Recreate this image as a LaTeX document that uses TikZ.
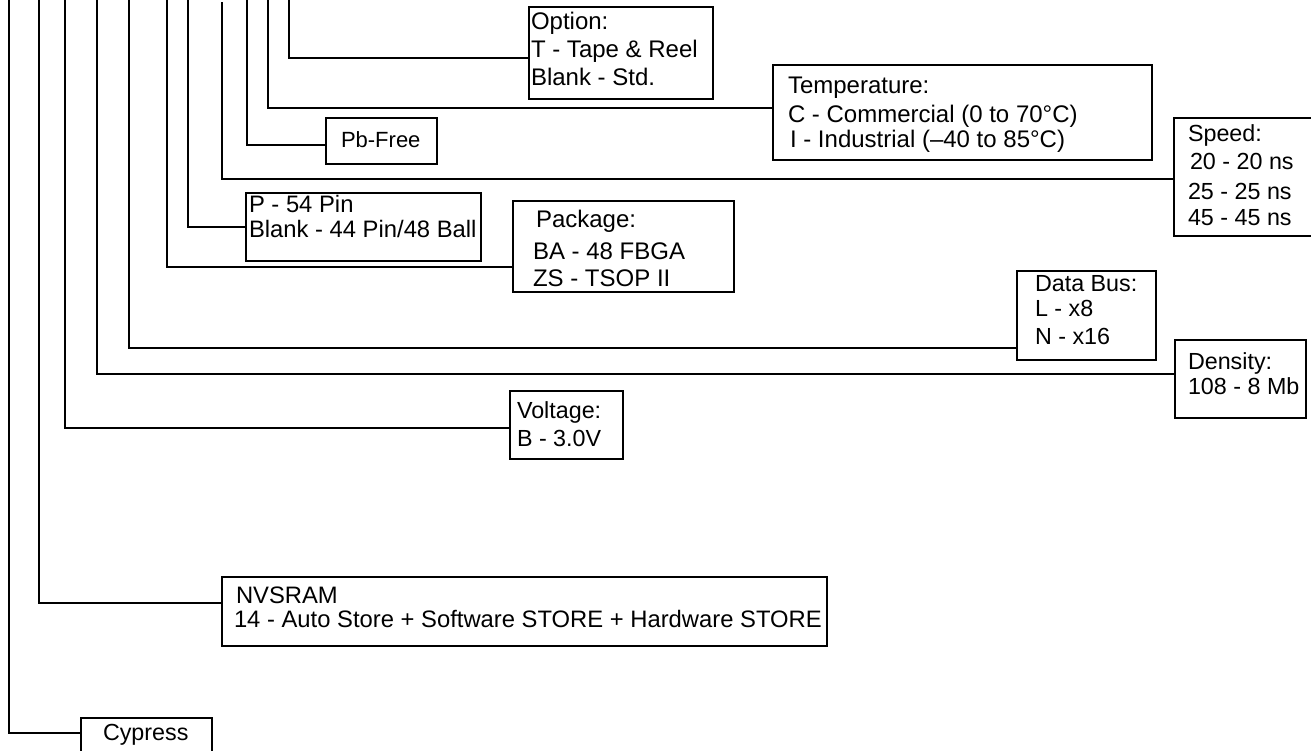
\documentclass[tikz,border=0pt]{standalone}
\usepackage{fontspec}
\setmainfont{Liberation Sans}
\begin{document}
\begin{tikzpicture}[x=1pt,y=-1pt,
  box/.style={draw, line width=2pt, inner sep=0pt, outer sep=0pt, anchor=north west},
  lbl/.style={anchor=base west, inner sep=0pt, outer sep=0pt, font=\fontsize{24}{26}\selectfont},
  lbls/.style={lbl, font=\fontsize{23.3}{26}\selectfont},
  lblw/.style={lbl, font=\fontsize{23.8}{26}\selectfont},
  wire/.style={line width=2pt}]
\useasboundingbox (0,0) rectangle (1311,751);
% boxes
\node[box, minimum width=184pt, minimum height=92pt] (opt) at (529,7) {};
\node[box, minimum width=379pt, minimum height=95pt] (temp) at (773,65) {};
\node[box, minimum width=111pt, minimum height=46pt] (pb) at (326,118) {};
\node[box, minimum width=150pt, minimum height=118pt] (speed) at (1174,118) {};
\node[box, minimum width=235pt, minimum height=68pt] (pin) at (246,193) {};
\node[box, minimum width=221pt, minimum height=91pt] (pkg) at (513,201) {};
\node[box, minimum width=139pt, minimum height=89pt] (bus) at (1017,271) {};
\node[box, minimum width=131pt, minimum height=78pt] (dens) at (1175,340) {};
\node[box, minimum width=113pt, minimum height=68pt] (volt) at (510,391) {};
\node[box, minimum width=605pt, minimum height=69pt] (nv) at (222,577) {};
\node[box, minimum width=131pt, minimum height=42pt] (cy) at (81,718) {};
% texts
\node[lbl] (t1) at (531,30) {Option:};
\node[lbl] (t2) at (531,58) {T - Tape \& Reel};
\node[lbl] (t3) at (531,86) {Blank - Std.};
\node[lbl] (t4) at (788,94) {Temperature:};
\node[lbl] (t5) at (788,123) {C - Commercial (0 to 70°C)};
\node[lbl] (t6) at (790,148) {I - Industrial (–40 to 85°C)};
\node[lbl, font=\fontsize{22}{24}\selectfont] (t7) at (341,148) {Pb-Free};
\node[lbls] (t8) at (1188,142) {Speed:};
\node[lbls] (t9) at (1190,170) {20 - 20 ns};
\node[lbls] (t10) at (1188,200) {25 - 25 ns};
\node[lbls] (t11) at (1188,226) {45 - 45 ns};
\node[lblw] (t12) at (249,213) {P - 54 Pin};
\node[lblw] (t13) at (249,238) {Blank - 44 Pin/48 Ball};
\node[lbl] (t14) at (536,228) {Package:};
\node[lbl] (t15) at (533,260) {BA - 48 FBGA};
\node[lbl] (t16) at (533,287) {ZS - TSOP II};
\node[lbls] (t17) at (1035,291) {Data Bus:};
\node[lbls] (t18) at (1035,316) {L - x8};
\node[lbls] (t19) at (1035,344) {N - x16};
\node[lbls] (t20) at (1188,369) {Density:};
\node[lbls] (t21) at (1188,394) {108 - 8 Mb};
\node[lbls] (t22) at (517,418) {Voltage:};
\node[lbls] (t23) at (517,446) {B - 3.0V};
\node[lblw] (t24) at (236,603) {NVSRAM};
\node[lblw] (t25) at (234,627) {14 - Auto Store + Software STORE + Hardware STORE};
\node[lbls] (t26) at (103,740) {Cypress};
% connector start points and levels
\coordinate (s1) at (9,0);    \coordinate (y1) at (0,733);
\coordinate (s2) at (39,0);   \coordinate (y2) at (0,603);
\coordinate (s3) at (65,0);   \coordinate (y3) at (0,428);
\coordinate (s4) at (97,0);   \coordinate (y4) at (0,374);
\coordinate (s5) at (129,0);  \coordinate (y5) at (0,348);
\coordinate (s6) at (167,0);  \coordinate (y6) at (0,267);
\coordinate (s7) at (188,0);  \coordinate (y7) at (0,227);
\coordinate (s8) at (222,2.5);\coordinate (y8) at (0,179);
\coordinate (s9) at (247,0);  \coordinate (y9) at (0,145);
\coordinate (s10) at (268,0); \coordinate (y10) at (0,108);
\coordinate (s11) at (289,0); \coordinate (y11) at (0,58);
\draw[wire] (s1) |- (cy.west |- y1);
\draw[wire] (s2) |- (nv.west |- y2);
\draw[wire] (s3) |- (volt.west |- y3);
\draw[wire] (s4) |- (dens.west |- y4);
\draw[wire] (s5) |- (bus.west |- y5);
\draw[wire] (s6) |- (pkg.west |- y6);
\draw[wire] (s7) |- (pin.west |- y7);
\draw[wire] (s8) |- (speed.west |- y8);
\draw[wire] (s9) |- (pb.west |- y9);
\draw[wire] (s10) |- (temp.west |- y10);
\draw[wire] (s11) |- (opt.west |- y11);
\end{tikzpicture}
\end{document}
